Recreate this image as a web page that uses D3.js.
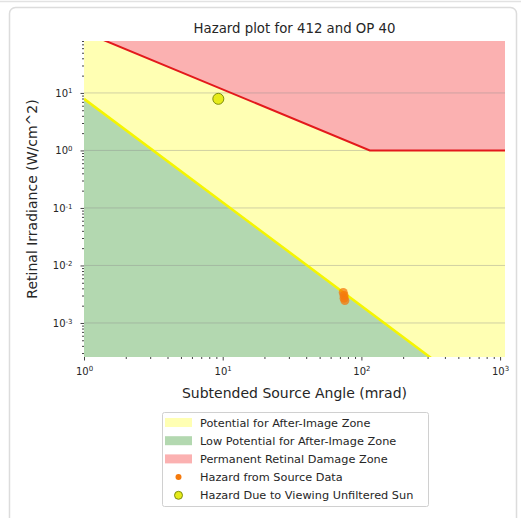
<!DOCTYPE html>
<html>
<head>
<meta charset="utf-8">
<script src="https://cdn.jsdelivr.net/npm/d3@7"></script>
<style>
  body { margin: 0; background: #fff; }
  text { font-family: "DejaVu Sans", sans-serif; fill: #262626; }
</style>
</head>
<body>
<svg width="521" height="518"></svg>
<script>
"use strict";

// boundary lines (mrad, W/cm^2)
const damageX = [1, 115, 1085],
      damageY = [115, 1, 1];
const afterImageX = [1, 1085],
      afterImageY = [7.9, 2.7e-5];

// hazard points
const sourceX = [74, 75, 75, 76],
      sourceY = [3.4e-3, 3.0e-3, 2.7e-3, 2.45e-3];
const sunX = [9.3],
      sunY = [7.9];

const xMajor = [1, 10, 100, 1000],
      yMajor = [1e-3, 1e-2, 1e-1, 1, 10];

const legendLabels = [
    "Potential for After-Image Zone",
    "Low Potential for After-Image Zone",
    "Permanent Retinal Damage Zone",
    "Hazard from Source Data",
    "Hazard Due to Viewing Unfiltered Sun"
];

const colors = {
    yellow: "#ffffb3",
    green: "#b3d8b0",
    red: "#fbb1b1",
    redLine: "#e3191c",
    yellowLine: "#f5f500",
    orange: "#f57a0c",
    sunFill: "#e6eb1a",
    sunEdge: "#7d8c10"
};

let svg = d3.select("svg");

const plot = { left: 84, right: 505, top: 41, bottom: 357 };

// notebook frame
svg.append("line")
.attr("x1", 0).attr("x2", 521).attr("y1", 1.5).attr("y2", 1.5)
.attr("stroke", "#e2e2e2").attr("stroke-width", 1.5);
svg.append("rect")
.attr("x", 9.5).attr("y", 7.5).attr("width", 507).attr("height", 530).attr("rx", 6)
.attr("fill", "none").attr("stroke", "#dcdcdc").attr("stroke-width", 1.5);

let scaleX = d3.scaleLog().domain([1, 1085]).range([plot.left, plot.right]);
let scaleY = d3.scaleLog().domain([2.56e-4, 80]).range([plot.bottom, plot.top]);

svg.append("clipPath").attr("id", "clip")
.append("rect")
.attr("x", plot.left).attr("y", plot.top)
.attr("width", plot.right - plot.left).attr("height", plot.bottom - plot.top);

let g = svg.append("g").attr("clip-path", "url(#clip)");

// yellow zone = background
g.append("rect")
.attr("x", plot.left).attr("y", plot.top)
.attr("width", plot.right - plot.left).attr("height", plot.bottom - plot.top)
.attr("fill", colors.yellow);

// green zone below the after-image line
let lowPts = afterImageX.map((x, i) => [x, afterImageY[i]]);
g.append("path")
.datum(lowPts)
.attr("fill", colors.green)
.attr("d", d3.area().x(d => scaleX(d[0])).y0(plot.bottom).y1(d => scaleY(d[1])));

// red zone above the damage line
let damagePts = damageX.map((x, i) => [x, damageY[i]]);
g.append("path")
.datum(damagePts)
.attr("fill", colors.red)
.attr("d", d3.area().x(d => scaleX(d[0])).y0(plot.top).y1(d => scaleY(d[1])));

// horizontal grid
g.append("g")
.selectAll("line")
.data(yMajor)
.enter()
.append("line")
.attr("x1", plot.left).attr("x2", plot.right)
.attr("y1", d => scaleY(d)).attr("y2", d => scaleY(d))
.attr("stroke", "#8c8c8c").attr("stroke-opacity", 0.5).attr("stroke-width", 0.8);

let line = d3.line().x(d => scaleX(d[0])).y(d => scaleY(d[1]));

g.append("path").datum(lowPts)
.attr("d", line).attr("fill", "none")
.attr("stroke", colors.yellowLine).attr("stroke-width", 2.5);

g.append("path").datum(damagePts)
.attr("d", line).attr("fill", "none")
.attr("stroke", colors.redLine).attr("stroke-width", 2);

// points
g.append("g")
.selectAll("circle")
.data(sourceX.map((x, i) => [x, sourceY[i]]))
.enter()
.append("circle")
.attr("cx", d => scaleX(d[0])).attr("cy", d => scaleY(d[1]))
.attr("r", 4.5)
.attr("fill", colors.orange).attr("fill-opacity", 0.75);

g.append("g")
.selectAll("circle")
.data(sunX.map((x, i) => [x, sunY[i]]))
.enter()
.append("circle")
.attr("cx", d => scaleX(d[0])).attr("cy", d => scaleY(d[1]))
.attr("r", 5.5)
.attr("fill", colors.sunFill).attr("stroke", colors.sunEdge).attr("stroke-width", 1);

// axes
function supLabels(sel) {
    sel.selectAll(".tick text").each(function(d) {
        let t = d3.select(this).text(null);
        t.append("tspan").text("10");
        t.append("tspan").attr("dy", "-0.45em").attr("font-size", "7px").text(Math.round(Math.log10(d)));
    });
}

let xAxis = svg.append("g")
.attr("transform", `translate(0, ${plot.bottom})`)
.call(d3.axisBottom(scaleX).tickValues(xMajor).tickSize(3.5).tickPadding(7));
xAxis.select(".domain").remove();
xAxis.selectAll("text").attr("font-size", "10px");
supLabels(xAxis);

let xMinor = svg.append("g")
.attr("transform", `translate(0, ${plot.bottom})`)
.call(d3.axisBottom(scaleX).tickValues(scaleX.ticks().filter(d => !xMajor.includes(d))).tickSize(2).tickFormat(""));
xMinor.select(".domain").remove();

let yAxis = svg.append("g")
.attr("transform", `translate(${plot.left}, 0)`)
.call(d3.axisLeft(scaleY).tickValues(yMajor).tickSize(3.5).tickPadding(8));
yAxis.select(".domain").remove();
yAxis.selectAll("text").attr("font-size", "10px");
supLabels(yAxis);

let yMinor = svg.append("g")
.attr("transform", `translate(${plot.left}, 0)`)
.call(d3.axisLeft(scaleY).tickValues(scaleY.ticks().filter(d => !yMajor.some(m => Math.abs(m - d) / m < 1e-6))).tickSize(2).tickFormat(""));
yMinor.select(".domain").remove();

svg.selectAll(".tick line").attr("stroke", "#444");

// titles
svg.append("text")
.attr("x", (plot.left + plot.right) / 2).attr("y", 33)
.attr("text-anchor", "middle").attr("font-size", "13.3px")
.text("Hazard plot for 412 and OP 40");

svg.append("text")
.attr("x", (plot.left + plot.right) / 2).attr("y", 398)
.attr("text-anchor", "middle").attr("font-size", "14px")
.text("Subtended Source Angle (mrad)");

svg.append("text")
.attr("transform", `translate(37, ${(plot.top + plot.bottom) / 2}) rotate(-90)`)
.attr("text-anchor", "middle").attr("font-size", "14px")
.text("Retinal Irradiance (W/cm^2)");

// legend
let legend = svg.append("g").attr("class", "legend");
legend.append("rect")
.attr("x", 162.5).attr("y", 412.5).attr("width", 266).attr("height", 94).attr("rx", 2)
.attr("fill", "#fff").attr("stroke", "#d0d0d0");

let rowH = 18.2;
legend.selectAll("g.item")
.data(legendLabels)
.enter()
.append("g")
.attr("class", "item")
.attr("transform", (d, i) => `translate(165, ${422.5 + i * rowH})`)
.each(function(d, i) {
    let it = d3.select(this);
    if (i < 3) {
        it.append("rect")
        .attr("x", 0).attr("y", -4.5).attr("width", 27).attr("height", 9)
        .attr("fill", [colors.yellow, colors.green, colors.red][i]);
    } else if (i == 3) {
        it.append("circle").attr("cx", 13.5).attr("cy", 0).attr("r", 3)
        .attr("fill", colors.orange);
    } else {
        it.append("circle").attr("cx", 13.5).attr("cy", 0).attr("r", 4)
        .attr("fill", colors.sunFill).attr("stroke", colors.sunEdge);
    }
    it.append("text")
    .attr("x", 35).attr("y", 4)
    .attr("font-size", "11.3px")
    .text(d);
});
</script>
</body>
</html>
